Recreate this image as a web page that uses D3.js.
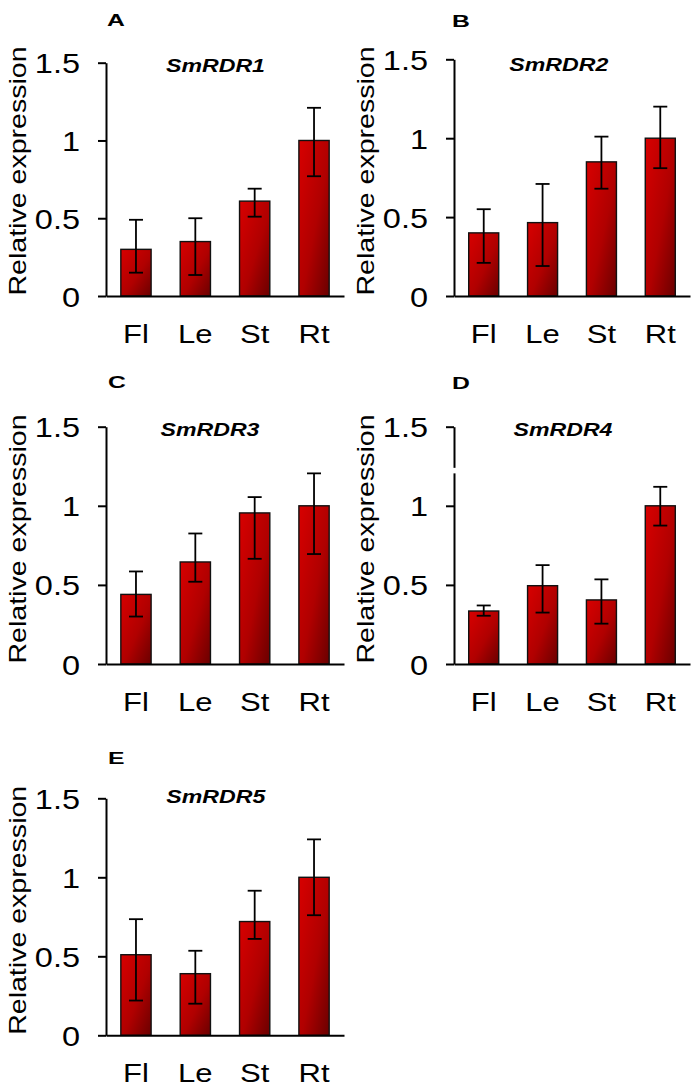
<!DOCTYPE html>
<html>
<head>
<meta charset="utf-8">
<script src="https://cdn.jsdelivr.net/npm/d3@7/dist/d3.min.js"></script>
<style>
  body { margin: 0; background: #fff; }
  text { font-family: "Liberation Sans", Arial, sans-serif; }
</style>
</head>
<body>
<div id="fig"></div>
<script>
var tissues = ["Fl", "Le", "St", "Rt"];
var yTicks = [0, 0.5, 1, 1.5];
var yTickLabels = ["0", "0.5", "1", "1.5"];
var genes = ["SmRDR1", "SmRDR2", "SmRDR3", "SmRDR4", "SmRDR5"];
var panelLetters = ["A", "B", "C", "D", "E"];

// mean relative expression per gene (Fl, Le, St, Rt)
var rdr1 = [0.30, 0.35, 0.61, 1.00];
var rdr2 = [0.40, 0.465, 0.85, 1.00];
var rdr3 = [0.44, 0.645, 0.955, 1.00];
var rdr4 = [0.335, 0.495, 0.405, 1.00];
var rdr5 = [0.51, 0.39, 0.72, 1.00];

// error bar ends (upper / lower)
var rdr1Hi = [0.49, 0.50, 0.69, 1.21];
var rdr1Lo = [0.15, 0.135, 0.51, 0.77];
var rdr2Hi = [0.55, 0.71, 1.01, 1.20];
var rdr2Lo = [0.21, 0.19, 0.68, 0.81];
var rdr3Hi = [0.585, 0.825, 1.055, 1.205];
var rdr3Lo = [0.30, 0.52, 0.665, 0.695];
var rdr4Hi = [0.37, 0.625, 0.535, 1.12];
var rdr4Lo = [0.305, 0.325, 0.255, 0.875];
var rdr5Hi = [0.735, 0.535, 0.915, 1.24];
var rdr5Lo = [0.22, 0.20, 0.61, 0.76];

var means = [rdr1, rdr2, rdr3, rdr4, rdr5];
var his = [rdr1Hi, rdr2Hi, rdr3Hi, rdr4Hi, rdr5Hi];
var los = [rdr1Lo, rdr2Lo, rdr3Lo, rdr4Lo, rdr5Lo];

// layout of each panel: y axis x, y of 0, y of 1.5, title centre/baseline, letter pos
var layout = [
  {ax: 106, y0: 296, y15: 62.7, w: 238, tx: 215.5, ty: 72, lx: 107, ly: 26},
  {ax: 454, y0: 296, y15: 59.3, w: 236, tx: 558.8, ty: 71, lx: 452, ly: 26.5},
  {ax: 106, y0: 664, y15: 426.7, w: 238, tx: 210, ty: 436, lx: 108, ly: 388},
  {ax: 454, y0: 664, y15: 426.7, w: 236, tx: 563, ty: 436, lx: 452, ly: 389},
  {ax: 106, y0: 1035.3, y15: 798.3, w: 238, tx: 215.8, ty: 803, lx: 108, ly: 764}
];

var svg = d3.select("#fig").append("svg")
  .attr("width", 696).attr("height", 1090)
  .style("background", "#fff");

var defs = svg.append("defs");
var grad = defs.append("linearGradient").attr("id", "barGrad")
  .attr("x1", 0).attr("y1", 0).attr("x2", 1).attr("y2", 1);
grad.append("stop").attr("offset", "0%").attr("stop-color", "#d80000");
grad.append("stop").attr("offset", "55%").attr("stop-color", "#b00000");
grad.append("stop").attr("offset", "100%").attr("stop-color", "#6a0000");

function drawPanel(i) {
  var L = layout[i];
  var g = svg.append("g").attr("class", "panel");

  var y = d3.scaleLinear().domain([0, 1.5]).range([L.y0, L.y15]);
  var x = d3.scaleBand().domain(tissues)
    .range([L.ax, L.ax + L.w])
    .paddingInner(0.49).paddingOuter(0.25);

  var rows = tissues.map(function(t, k) {
    return {t: t, v: means[i][k], hi: his[i][k], lo: los[i][k]};
  });

  // bars
  g.selectAll("rect.bar").data(rows).enter().append("rect")
    .attr("class", "bar")
    .attr("x", function(d) { return x(d.t); })
    .attr("width", x.bandwidth())
    .attr("y", function(d) { return y(d.v); })
    .attr("height", function(d) { return y(0) - y(d.v); })
    .attr("fill", "url(#barGrad)")
    .attr("stroke", "#111")
    .attr("stroke-width", 1.4);

  // error bars
  var eb = g.selectAll("g.err").data(rows).enter().append("g").attr("class", "err")
    .attr("stroke", "#000").attr("stroke-width", 1.8);
  eb.append("line")
    .attr("x1", function(d) { return x(d.t) + x.bandwidth() / 2; })
    .attr("x2", function(d) { return x(d.t) + x.bandwidth() / 2; })
    .attr("y1", function(d) { return y(d.hi); })
    .attr("y2", function(d) { return y(d.lo); });
  eb.append("line")
    .attr("x1", function(d) { return x(d.t) + x.bandwidth() / 2 - 7; })
    .attr("x2", function(d) { return x(d.t) + x.bandwidth() / 2 + 7; })
    .attr("y1", function(d) { return y(d.hi); })
    .attr("y2", function(d) { return y(d.hi); });
  eb.append("line")
    .attr("x1", function(d) { return x(d.t) + x.bandwidth() / 2 - 7; })
    .attr("x2", function(d) { return x(d.t) + x.bandwidth() / 2 + 7; })
    .attr("y1", function(d) { return y(d.lo); })
    .attr("y2", function(d) { return y(d.lo); });

  // y axis
  var yAxis = d3.axisLeft(y).tickValues(yTicks)
    .tickFormat(function(d, k) { return yTickLabels[k]; })
    .tickSize(8).tickSizeOuter(0);
  var ya = g.append("g").attr("transform", "translate(" + L.ax + ",0)").call(yAxis);
  ya.select(".domain").attr("stroke", "#000").attr("stroke-width", 2);
  ya.selectAll(".tick line").attr("stroke", "#000").attr("stroke-width", 2);
  ya.selectAll(".tick text")
    .attr("x", 0).attr("y", 10).attr("dy", null)
    .attr("transform", "translate(-26,0) scale(1.16,1)")
    .attr("font-size", 28).attr("fill", "#000")
    .style("font-family", "'Liberation Sans', Arial, sans-serif");

  // x axis
  var xAxis = d3.axisBottom(x).tickSize(0).tickSizeOuter(0);
  var xa = g.append("g").attr("transform", "translate(0," + L.y0 + ")").call(xAxis);
  xa.select(".domain").attr("stroke", "#000").attr("stroke-width", 2);
  xa.selectAll(".tick text")
    .attr("y", 47).attr("dy", null)
    .attr("transform", "scale(1.17,1)")
    .attr("font-size", 26.5).attr("fill", "#000")
    .style("font-family", "'Liberation Sans', Arial, sans-serif");

  // axis break on panel D
  if (i === 3) {
    g.append("rect").attr("x", L.ax - 3).attr("width", 6)
      .attr("y", y(1.24)).attr("height", y(1.205) - y(1.24))
      .attr("fill", "#fff");
  }

  // y label
  g.append("text")
    .attr("transform", "translate(" + (L.ax - 80.5) + "," + (L.y0 - 125) + ") rotate(-90) scale(1.19,1)")
    .attr("text-anchor", "middle")
    .attr("font-size", 24)
    .text("Relative expression");

  // gene title
  g.append("text")
    .attr("transform", "translate(" + L.tx + "," + L.ty + ") scale(1.25,1)")
    .attr("text-anchor", "middle")
    .attr("font-size", 18.5)
    .attr("font-weight", "bold")
    .attr("font-style", "italic")
    .text(genes[i]);

  // panel letter
  g.append("text")
    .attr("transform", "translate(" + L.lx + "," + L.ly + ") scale(1.5,1)")
    .attr("font-size", 16.5)
    .attr("font-weight", "bold")
    .text(panelLetters[i]);
}

for (var i = 0; i < genes.length; i++) {
  drawPanel(i);
}
</script>
</body>
</html>
